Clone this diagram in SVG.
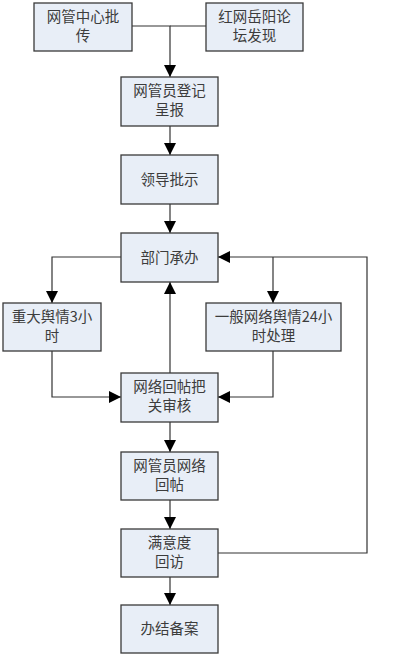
<svg xmlns="http://www.w3.org/2000/svg" width="408" height="660" viewBox="0 0 408 660">
<style>
.box{fill:#E8EEF7;stroke:#3a3a3a;stroke-width:1.3}
.t{font-family:"Noto Sans CJK SC","Liberation Serif",serif;font-size:14.5px;fill:#3c3c3c;text-anchor:middle}
.c{fill:none;stroke:#333;stroke-width:1.2}
</style>
<defs>
<marker id="ah" markerUnits="userSpaceOnUse" markerWidth="12" markerHeight="12" viewBox="0 0 12 12" refX="12" refY="6" orient="auto">
<polygon points="0,0 12,6 0,12" fill="#000"/>
</marker>
</defs>
<rect width="408" height="660" fill="#fff"/>
<g id="connectors">
<path class="c" d="M132,26 H170 V77" marker-end="url(#ah)"/>
<path class="c" d="M206,26 H170"/>
<path class="c" d="M170,126 V155" marker-end="url(#ah)"/>
<path class="c" d="M170,204 V233" marker-end="url(#ah)"/>
<path class="c" d="M121,257 H52 V303" marker-end="url(#ah)"/>
<path class="c" d="M218,553 H367 V257 H218" marker-end="url(#ah)"/>
<path class="c" d="M273,257 V303" marker-end="url(#ah)"/>
<path class="c" d="M52,351 V397 H121" marker-end="url(#ah)"/>
<path class="c" d="M273,351 V397 H218" marker-end="url(#ah)"/>
<path class="c" d="M170,373 V282" marker-end="url(#ah)"/>
<path class="c" d="M170,422 V452" marker-end="url(#ah)"/>
<path class="c" d="M170,500 V529" marker-end="url(#ah)"/>
<path class="c" d="M170,577 V605" marker-end="url(#ah)"/>
</g>
<g id="n1"><rect class="box" x="34" y="3" width="98" height="48"/><text class="t" x="83" y="22">网管中心批</text><text class="t" x="83" y="41">传</text></g>
<g id="n2"><rect class="box" x="206" y="3" width="97" height="48"/><text class="t" x="254.5" y="22">红网岳阳论</text><text class="t" x="254.5" y="41">坛发现</text></g>
<g id="n3"><rect class="box" x="121" y="77" width="97" height="49"/><text class="t" x="169.5" y="96">网管员登记</text><text class="t" x="169.5" y="115">呈报</text></g>
<g id="n4"><rect class="box" x="121" y="155" width="97" height="49"/><text class="t" x="169.5" y="184.5">领导批示</text></g>
<g id="n5"><rect class="box" x="121" y="233" width="97" height="49"/><text class="t" x="169.5" y="262.5">部门承办</text></g>
<g id="n6"><rect class="box" x="3" y="303" width="98" height="48"/><text class="t" x="52" y="322">重大舆情3小</text><text class="t" x="52" y="341">时</text></g>
<g id="n7"><rect class="box" x="206" y="303" width="135" height="48"/><text class="t" x="273.5" y="322">一般网络舆情24小</text><text class="t" x="273.5" y="341">时处理</text></g>
<g id="n8"><rect class="box" x="121" y="373" width="97" height="49"/><text class="t" x="169.5" y="392">网络回帖把</text><text class="t" x="169.5" y="411">关审核</text></g>
<g id="n9"><rect class="box" x="121" y="452" width="97" height="48"/><text class="t" x="169.5" y="471">网管员网络</text><text class="t" x="169.5" y="490">回帖</text></g>
<g id="n10"><rect class="box" x="121" y="529" width="97" height="48"/><text class="t" x="169.5" y="548">满意度</text><text class="t" x="169.5" y="567">回访</text></g>
<g id="n11"><rect class="box" x="121" y="605" width="97" height="48"/><text class="t" x="169.5" y="634">办结备案</text></g>
</svg>
